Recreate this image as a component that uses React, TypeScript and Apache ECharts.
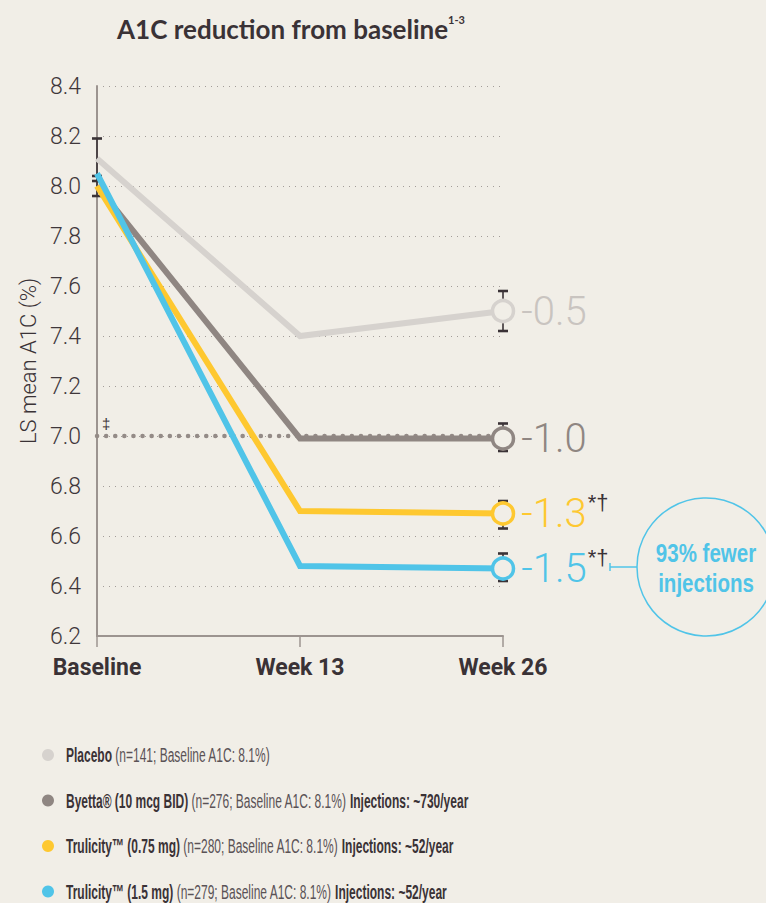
import React, { useEffect, useRef } from 'react';
import * as echarts from 'echarts';

const categories = ['Baseline', 'Week 13', 'Week 26'];
const yMin = 6.2;
const yMax = 8.4;
const yStep = 0.2;

const seriesNames = ['Placebo', 'Byetta® (10 mcg BID)', 'Trulicity™ (0.75 mg)', 'Trulicity™ (1.5 mg)'];
const placebo = [8.11, 7.4, 7.5];
const byetta = [8.0, 6.99, 6.99];
const trulicity075 = [8.0, 6.7, 6.69];
const trulicity15 = [8.05, 6.48, 6.47];
const reductions = ['-0.5', '-1.0', '-1.3', '-1.5'];
const significance = ['', '', '*†', '*†'];
const week26Low = [7.42, 6.94, 6.63, 6.42];
const week26High = [7.58, 7.05, 6.74, 6.53];
const baselineLow = [8.02, 7.96];
const baselineHigh = [8.19, 8.04];
const targetA1C = 7.0;
const enrolled = [141, 276, 280, 279];
const baselineA1C = ['8.1%', '8.1%', '8.1%', '8.1%'];
const injections = ['', '~730/year', '~52/year', '~52/year'];
const calloutText = ['93% fewer', 'injections'];

const colors = ['#d6d2ce', '#8f8682', '#fec830', '#50c4e8'];
const labelColors = ['#c9c4c0', '#8f8682', '#fec830', '#50c4e8'];
const BG = '#f1eee7';
const DARK = '#3a3236';
const SANS = '"Liberation Sans", Arial, sans-serif';

export default function App() {
  const ref = useRef<HTMLDivElement>(null);
  useEffect(() => {
    document.body.style.margin = '0';
    document.body.style.background = BG;
    const chart = echarts.init(ref.current!, null, { renderer: 'svg' });
    const values = [placebo, byetta, trulicity075, trulicity15];

    const lineSeries = values.map((arr, i) => ({
      type: 'line',
      name: seriesNames[i],
      z: 3 + i,
      symbol: 'circle',
      showSymbol: true,
      lineStyle: { color: colors[i], width: 6, join: 'miter' },
      itemStyle: { color: BG, borderColor: colors[i], borderWidth: 3.5 },
      data: arr.map((v, j) =>
        j === arr.length - 1
          ? {
              value: v,
              symbol: 'circle',
              symbolSize: 21,
              label: {
                show: true,
                position: 'right',
                distance: 6,
                formatter: significance[i]
                  ? `{v|${reductions[i]}}{s|${significance[i]}}`
                  : `{v|${reductions[i]}}`,
                rich: {
                  v: { fontFamily: 'Roboto', fontWeight: 300, fontSize: 40, color: labelColors[i], lineHeight: 44 },
                  s: { fontFamily: SANS, fontSize: 22, color: DARK, verticalAlign: 'top', lineHeight: 16, padding: [0, 0, 0, 1] },
                },
              },
            }
          : { value: v, symbol: 'none' }
      ),
    }));

    const errData: number[][] = [];
    baselineLow.forEach((lo, i) => errData.push([0, lo, baselineHigh[i]]));
    week26Low.forEach((lo, i) => errData.push([2, lo, week26High[i]]));

    const option: any = {
      animation: false,
      backgroundColor: BG,
      grid: { left: 97, right: 263, top: 86, bottom: 267 },
      xAxis: {
        type: 'category',
        data: categories,
        boundaryGap: false,
        axisLine: { lineStyle: { color: '#9c9490', width: 2 } },
        axisTick: { show: true, length: 11, interval: 0, lineStyle: { color: '#9c9490', width: 1.5 } },
        axisLabel: { interval: 0, margin: 20, fontFamily: 'Roboto', fontWeight: 'bold', fontSize: 23, color: DARK },
        splitLine: { show: false },
      },
      yAxis: {
        type: 'value',
        min: yMin,
        max: yMax,
        interval: yStep,
        name: 'LS mean A1C (%)',
        nameLocation: 'middle',
        nameRotate: 90,
        nameGap: 58,
        nameTextStyle: { fontFamily: 'Roboto', fontWeight: 300, fontSize: 22, color: DARK },
        axisLine: { show: true, lineStyle: { color: '#9c9490', width: 2 } },
        axisTick: { show: false },
        axisLabel: {
          margin: 16,
          fontFamily: 'Roboto',
          fontWeight: 300,
          fontSize: 23,
          color: '#3f373b',
          formatter: (v: number) => v.toFixed(1),
        },
        splitLine: { show: true, lineStyle: { color: '#a39d99', width: 1, type: [1, 5] } },
      },
      series: [
        {
          type: 'custom',
          z: 2,
          silent: true,
          encode: { x: 0, y: [1, 2] },
          data: errData,
          renderItem: (params: any, api: any) => {
            const x = api.value(0);
            const p1 = api.coord([x, api.value(1)]);
            const p2 = api.coord([x, api.value(2)]);
            const w = 5;
            const st = { stroke: DARK, lineWidth: 1.6 };
            const cap = { stroke: DARK, lineWidth: 2.6 };
            return {
              type: 'group',
              children: [
                { type: 'line', shape: { x1: p1[0], y1: p1[1], x2: p2[0], y2: p2[1] }, style: st },
                { type: 'line', shape: { x1: p1[0] - w, y1: p1[1], x2: p1[0] + w, y2: p1[1] }, style: cap },
                { type: 'line', shape: { x1: p2[0] - w, y1: p2[1], x2: p2[0] + w, y2: p2[1] }, style: cap },
              ],
            };
          },
        },
        {
          type: 'line',
          z: 2,
          silent: true,
          symbol: 'none',
          data: categories.map(() => targetA1C),
          lineStyle: { color: '#948b87', width: 4.5, type: [0.1, 9], cap: 'round' },
        },
        ...lineSeries,
      ],
      graphic: [
        {
          type: 'text',
          x: 291,
          y: 29,
          style: {
            text: '{t|A1C reduction from baseline}{s|1-3}',
            align: 'center',
            verticalAlign: 'middle',
            rich: {
              t: { fontFamily: 'Lato', fontWeight: 'bold', fontSize: 26, fill: DARK, lineHeight: 30 },
              s: { fontFamily: 'Lato', fontWeight: 'bold', fontSize: 11, fill: DARK, verticalAlign: 'top', lineHeight: 12 },
            },
          },
        },
        {
          type: 'text',
          x: 102,
          y: 423,
          style: { text: '‡', fontFamily: SANS, fontSize: 15, fill: DARK, align: 'left', verticalAlign: 'middle' },
        },
        {
          type: 'circle',
          shape: { cx: 706, cy: 567, r: 69 },
          style: { fill: 'none', stroke: '#50c4e8', lineWidth: 1.5 },
        },
        {
          type: 'line',
          shape: { x1: 610, y1: 567, x2: 637, y2: 567 },
          style: { stroke: '#50c4e8', lineWidth: 1.5 },
        },
        {
          type: 'line',
          shape: { x1: 610, y1: 563, x2: 610, y2: 571 },
          style: { stroke: '#50c4e8', lineWidth: 1.5 },
        },
        ...calloutText.map((t, k) => ({
          type: 'text',
          x: 706,
          y: 553 + k * 30,
          scaleX: 0.82,
          style: { text: t, fontFamily: SANS, fontWeight: 'bold', fontSize: 25, fill: '#50c4e8', align: 'center', verticalAlign: 'middle' },
        })),
        ...seriesNames.map((n, i) => ({
          type: 'group',
          children: [
            { type: 'circle', shape: { cx: 48, cy: 755 + i * 45.5, r: 6 }, style: { fill: colors[i] } },
            {
              type: 'text',
              x: 66,
              y: 755 + i * 45.5,
              scaleX: 0.6,
              style: {
                text:
                  `{b|${n}}{r| (n=${enrolled[i]}; Baseline A1C: ${baselineA1C[i]})}` +
                  (injections[i] ? `{b| Injections: ${injections[i]}}` : ''),
                verticalAlign: 'middle',
                align: 'left',
                rich: {
                  b: { fontFamily: SANS, fontWeight: 'bold', fontSize: 20, fill: DARK },
                  r: { fontFamily: SANS, fontSize: 20, fill: '#5a5256' },
                },
              },
            },
          ],
        })),
      ],
    };
    chart.setOption(option);
    return () => chart.dispose();
  }, []);
  return <div ref={ref} style={{ position: 'absolute', left: 0, top: 0, width: 766, height: 903 }} />;
}
